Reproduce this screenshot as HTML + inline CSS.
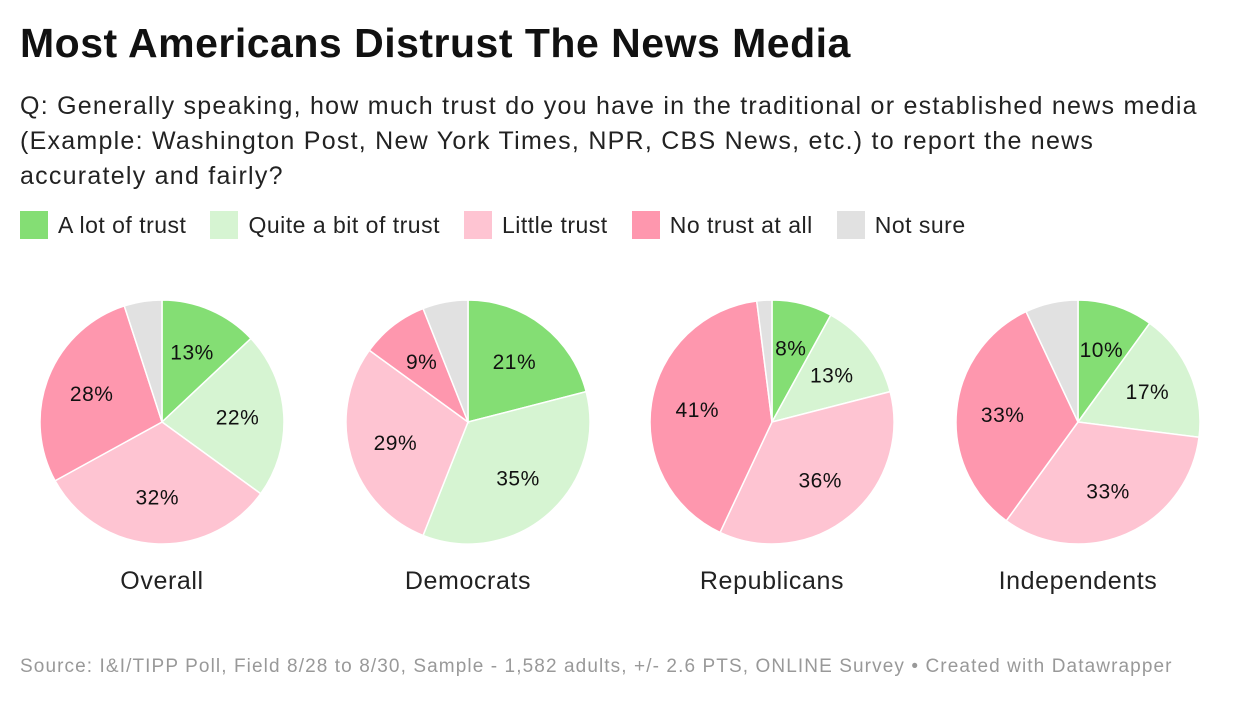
<!DOCTYPE html>
<html><head><meta charset="utf-8"><style>
body{margin:0;width:1240px;height:702px;background:#fff;font-family:"Liberation Sans",Arial,sans-serif;overflow:hidden;position:relative}
h1{position:absolute;left:20px;top:20px;margin:0;font-size:41px;font-weight:bold;color:#111;letter-spacing:0.5px;white-space:nowrap}
.sub{position:absolute;left:20px;top:89px;font-size:25px;line-height:35px;color:#222;letter-spacing:1.25px;white-space:nowrap}
.legend{position:absolute;left:20px;top:211px;display:flex;font-size:23px;color:#222;letter-spacing:0.5px}
.li{display:flex;align-items:center;margin-right:24px}
.sw{width:28px;height:28px;margin-right:10px}
.src{position:absolute;left:20px;top:656px;font-size:19px;color:#999;letter-spacing:1.1px;white-space:nowrap}
svg{position:absolute;left:0;top:0}
</style></head><body>
<h1>Most Americans Distrust The News Media</h1>
<div class="sub">Q: Generally speaking, how much trust do you have in the traditional or established news media<br>(Example: Washington Post, New York Times, NPR, CBS News, etc.) to report the news<br>accurately and fairly?</div>
<div class="legend">
<div class="li"><div class="sw" style="background:#84de74"></div>A lot of trust</div>
<div class="li"><div class="sw" style="background:#d6f4d2"></div>Quite a bit of trust</div>
<div class="li"><div class="sw" style="background:#fec4d2"></div>Little trust</div>
<div class="li"><div class="sw" style="background:#fe97ae"></div>No trust at all</div>
<div class="li"><div class="sw" style="background:#e1e1e1"></div>Not sure</div>
</div>
<svg id="chart" width="1240" height="702"></svg>
<div class="src">Source: I&amp;I/TIPP Poll, Field 8/28 to 8/30, Sample - 1,582 adults, +/- 2.6 PTS, ONLINE Survey • Created with Datawrapper</div>
<script>
const groups=["Overall","Democrats","Republicans","Independents"];
const aLot=[13,21,8,10];
const quiteABit=[22,35,13,17];
const little=[32,29,36,33];
const noTrust=[28,9,41,33];
const notSure=[5,6,2,7];
const colors=["#84de74","#d6f4d2","#fec4d2","#fe97ae","#e1e1e1"];
const svg=document.getElementById('chart');
const NS="http://www.w3.org/2000/svg";
const cxs=[162,468,772,1078],cy=422,R=122;
groups.forEach((g,i)=>{
  const vals=[aLot[i],quiteABit[i],little[i],noTrust[i],notSure[i]];
  const tot=vals.reduce((a,b)=>a+b,0);
  let a0=0;const cx=cxs[i];
  vals.forEach((v,k)=>{
    const a1=a0+v/tot*2*Math.PI;
    const p=document.createElementNS(NS,'path');
    const x0=cx+R*Math.sin(a0),y0=cy-R*Math.cos(a0),x1=cx+R*Math.sin(a1),y1=cy-R*Math.cos(a1);
    p.setAttribute('d',`M${cx},${cy}L${x0},${y0}A${R},${R} 0 ${a1-a0>Math.PI?1:0} 1 ${x1},${y1}Z`);
    p.setAttribute('fill',colors[k]);p.setAttribute('stroke','#fff');p.setAttribute('stroke-width','1.5');
    
    
    svg.appendChild(p);
    if(k<4&&v>=5){
      const m=(a0+a1)/2;
      const t=document.createElementNS(NS,'text');
      t.setAttribute('x',cx+0.62*R*Math.sin(m));t.setAttribute('y',cy-0.62*R*Math.cos(m)+7);
      t.setAttribute('text-anchor','middle');t.setAttribute('font-size','21');t.setAttribute('fill','#111');
      t.setAttribute('letter-spacing','0.5');
      t.setAttribute('font-family','Liberation Sans, Arial, sans-serif');
      t.textContent=v+'%';
      
      
      svg.appendChild(t);
    }
    a0=a1;
  });
  const n=document.createElementNS(NS,'text');
  n.setAttribute('x',cx);n.setAttribute('y',589);n.setAttribute('text-anchor','middle');
  n.setAttribute('font-size','25');n.setAttribute('fill','#222');n.setAttribute('font-family','Liberation Sans, Arial, sans-serif');
  n.setAttribute('letter-spacing','0.6');
  n.textContent=g;
  
  
  svg.appendChild(n);
});
</script>
</body></html>
